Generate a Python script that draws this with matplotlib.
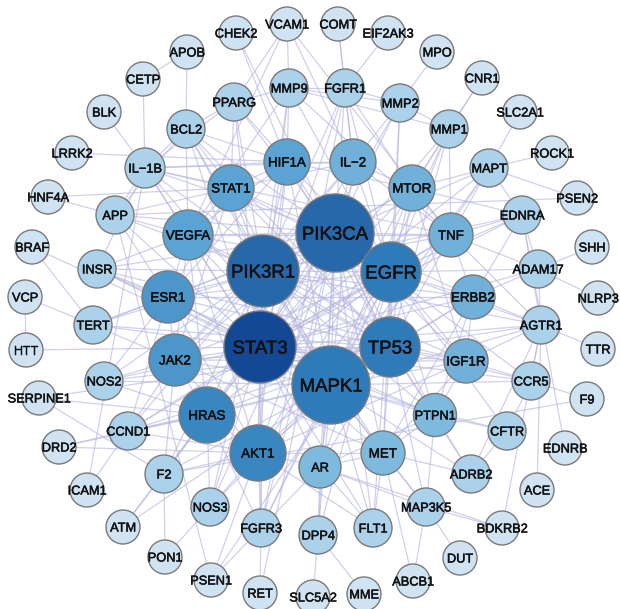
import matplotlib
matplotlib.use("Agg")
import matplotlib.pyplot as plt
import matplotlib.patheffects as pe
from matplotlib.patches import Circle
from matplotlib.collections import LineCollection
from matplotlib.colors import LinearSegmentedColormap, Normalize

# ---- network data -------------------------------------------------------
genes = [
    # hubs
    "STAT3", "PIK3CA", "PIK3R1", "EGFR", "TP53", "MAPK1",
    # inner ring
    "HIF1A", "IL−2", "STAT1", "MTOR", "VEGFA", "TNF", "ESR1", "ERBB2",
    "JAK2", "IGF1R", "HRAS", "PTPN1", "AKT1", "MET", "AR",
    # middle ring
    "PPARG", "MMP9", "FGFR1", "MMP2", "MMP1", "MAPT", "EDNRA", "ADAM17",
    "AGTR1", "CCR5", "CFTR", "ADRB2", "MAP3K5", "FLT1", "DPP4", "FGFR3",
    "NOS3", "F2", "CCND1", "NOS2", "TERT", "INSR", "APP", "IL−1B", "BCL2",
    # outer ring
    "CHEK2", "VCAM1", "COMT", "EIF2AK3", "MPO", "CNR1", "SLC2A1", "ROCK1",
    "PSEN2", "SHH", "NLRP3", "TTR", "F9", "EDNRB", "ACE", "BDKRB2", "DUT",
    "ABCB1", "MME", "SLC5A2", "RET", "PSEN1", "PON1", "ATM", "ICAM1",
    "DRD2", "SERPINE1", "HTT", "VCP", "BRAF", "HNF4A", "LRRK2", "BLK",
    "CETP", "APOB",
]

# node degree (drives the fill colour)
degree = [
    38, 33, 33, 29, 29, 29,
    19, 16, 19, 16, 19, 16, 22, 16,
    22, 16, 26, 14, 26, 14, 14,
    8, 8, 8, 8, 8, 8, 8, 8,
    8, 8, 8, 8, 8, 8, 8, 8,
    8, 8, 8, 8, 8, 8, 8, 8, 8,
    2, 2, 2, 2, 2, 2, 2, 2,
    2, 2, 2, 2, 2, 2, 2, 2, 2,
    2, 2, 2, 2, 2, 2, 2, 2,
    2, 2, 2, 2, 2, 2, 2, 2,
    2, 2,
]

# centrality score (drives the node size)
score = [
    80, 92, 80, 56, 56, 92,
    28, 28, 28, 28, 36, 24, 40, 24,
    40, 24, 48, 22, 48, 24, 20,
    12, 12, 12, 12, 12, 12, 12, 12,
    12, 12, 12, 12, 12, 12, 12, 12,
    12, 12, 12, 12, 12, 12, 12, 16, 12,
    4, 4, 4, 4, 4, 4, 4, 4,
    4, 4, 4, 4, 4, 4, 4, 4, 4,
    4, 4, 4, 4, 4, 4, 4, 4,
    4, 4, 4, 4, 4, 4, 4, 4,
    4, 4,
]

interactions = {
    "STAT3": "PIK3CA PIK3R1 EGFR TP53 MAPK1 JAK2 ESR1 HRAS AKT1 VEGFA STAT1 HIF1A IL−2 MTOR TNF ERBB2 "
             "IGF1R PTPN1 MET AR NOS2 TERT INSR APP CCND1 F2 IL−1B BCL2 PPARG MMP9 FGFR1 MMP2 MMP1 "
             "EDNRA AGTR1 CCR5 ADAM17 FLT1 FGFR3 NOS3 MAPT HTT",
    "PIK3CA": "PIK3R1 EGFR TP53 MAPK1 JAK2 ESR1 HRAS AKT1 VEGFA STAT1 HIF1A IL−2 MTOR TNF ERBB2 IGF1R "
              "PTPN1 MET AR INSR APP IL−1B BCL2 PPARG FGFR1 MMP2 MAPT CCR5 FGFR3 FLT1 DPP4 NOS3 TERT RET",
    "PIK3R1": "EGFR TP53 MAPK1 JAK2 ESR1 HRAS AKT1 VEGFA STAT1 HIF1A IL−2 MTOR TNF ERBB2 IGF1R PTPN1 "
              "MET INSR APP TERT NOS2 FGFR1 MMP9 PPARG BCL2 CCND1 F2 NOS3 FGFR3 AGTR1 EDNRA",
    "EGFR": "TP53 MAPK1 ESR1 HRAS AKT1 VEGFA STAT1 HIF1A IL−2 MTOR TNF ERBB2 IGF1R PTPN1 MET AR JAK2 "
            "MMP2 MMP1 FGFR1 MMP9 ADAM17 AGTR1 CCND1 EDNRA CFTR FLT1 FGFR3 DPP4",
    "TP53": "MAPK1 ESR1 HRAS AKT1 VEGFA STAT1 HIF1A MTOR TNF ERBB2 IGF1R PTPN1 MET AR JAK2 IL−1B BCL2 "
            "CCND1 TERT NOS2 MMP2 MMP1 CCR5 AGTR1 ADRB2 MAP3K5 ATM SERPINE1 CHEK2",
    "MAPK1": "ESR1 HRAS AKT1 VEGFA STAT1 HIF1A IL−2 MTOR TNF ERBB2 IGF1R PTPN1 MET AR JAK2 IL−1B F2 "
             "NOS3 FGFR3 DPP4 FLT1 MAP3K5 ADRB2 CFTR CCR5 AGTR1 MAPT MMP1 BRAF BCL2 INSR NOS2 CCND1",
    "HIF1A": "IL−2 STAT1 VEGFA MTOR AKT1 ESR1 LRRK2 PPARG MMP9 BCL2 IL−1B CHEK2",
    "IL−2": "STAT1 MTOR TNF JAK2 FGFR1 MMP2 IL−1B VCAM1 COMT",
    "STAT1": "VEGFA JAK2 ESR1 IL−1B BCL2 PPARG HNF4A APP",
    "MTOR": "TNF AKT1 IGF1R MAPT MMP1 CNR1 EDNRA FGFR1",
    "VEGFA": "ESR1 JAK2 HRAS AKT1 APP INSR IL−1B BCL2 TNF MMP9 VCAM1",
    "TNF": "ERBB2 ADAM17 EDNRA AGTR1 MAPT MMP1 IL−1B MMP9 VCAM1",
    "ESR1": "JAK2 AKT1 INSR TERT APP NOS2 CCND1 ERBB2",
    "ERBB2": "IGF1R ADAM17 AGTR1 EDNRA MET PTPN1",
    "JAK2": "HRAS AKT1 NOS2 TERT CCND1 F2 IGF1R MET",
    "IGF1R": "PTPN1 INSR AGTR1 CCR5 MET AKT1",
    "HRAS": "AKT1 F2 CCND1 NOS3 FGFR3 NOS2 SERPINE1 DRD2 ATM",
    "PTPN1": "MET CFTR ADRB2 MAP3K5 AR INSR",
    "AKT1": "AR MET F2 NOS3 FGFR3 CCND1 PSEN1 DRD2 FLT1",
    "MET": "AR MAP3K5 FLT1 ADRB2 ABCB1",
    "AR": "FLT1 DPP4 MAP3K5 FGFR3 BDKRB2",
    "IL−1B": "BLK CETP PPARG BCL2 APP INSR ICAM1",
    "BCL2": "APOB PPARG APP",
    "PPARG": "VCAM1 MMP9",
    "MMP9": "VCAM1 MMP2 MMP1 FGFR1",
    "FGFR1": "MMP2 COMT EIF2AK3 FGFR3",
    "MMP2": "MPO MMP1",
    "MMP1": "CNR1",
    "MAPT": "SLC2A1 ROCK1 PSEN2 EDNRA PSEN1",
    "EDNRA": "ADAM17 EDNRB AGTR1",
    "ADAM17": "SHH NLRP3 AGTR1",
    "AGTR1": "TTR ACE CCR5 BDKRB2 ADRB2",
    "CCR5": "F9 CFTR",
    "CFTR": "ADRB2",
    "MAP3K5": "DUT ABCB1 BDKRB2",
    "DPP4": "SLC5A2 MME",
    "FGFR3": "RET PSEN1",
    "NOS3": "PON1",
    "F2": "PON1 ATM SERPINE1 F9",
    "CCND1": "DRD2 ICAM1",
    "TERT": "VCP BRAF",
    "APP": "HNF4A PSEN1 PSEN2",
    "VCP": "HTT",
    "CETP": "APOB",
}

# ---- layout (concentric rings, canvas units) -----------------------------
layout = {
    "PIK3CA": (335, 233), "PIK3R1": (263, 271), "EGFR": (391, 272),
    "STAT3": (260, 347), "TP53": (390, 347), "MAPK1": (331, 385),
    "HIF1A": (287, 162), "IL−2": (353, 162), "STAT1": (231, 188),
    "MTOR": (412, 188), "VEGFA": (188, 235), "TNF": (451, 235),
    "ESR1": (168, 297), "ERBB2": (473, 297), "JAK2": (175, 360),
    "IGF1R": (466, 361), "HRAS": (207, 415), "PTPN1": (435, 415),
    "AKT1": (258, 453), "MET": (383, 453), "AR": (320, 467),
    "PPARG": (234, 102), "MMP9": (289, 88), "FGFR1": (345, 88),
    "MMP2": (400, 103), "MMP1": (449, 129), "MAPT": (489, 168),
    "EDNRA": (522, 215), "ADAM17": (538, 269), "AGTR1": (541, 325),
    "CCR5": (531, 381), "CFTR": (507, 431), "ADRB2": (471, 474),
    "MAP3K5": (426, 507), "FLT1": (373, 528), "DPP4": (318, 535),
    "FGFR3": (261, 528), "NOS3": (210, 507), "F2": (164, 474),
    "CCND1": (128, 431), "NOS2": (104, 381), "TERT": (93, 325),
    "INSR": (97, 269), "APP": (115, 215), "IL−1B": (145, 168),
    "BCL2": (186, 129),
    "CHEK2": (236, 33), "VCAM1": (287, 24), "COMT": (338, 24),
    "EIF2AK3": (388, 33), "MPO": (437, 52), "CNR1": (482, 78),
    "SLC2A1": (520, 112), "ROCK1": (552, 153), "PSEN2": (577, 198),
    "SHH": (592, 247), "NLRP3": (598, 298), "TTR": (598, 349),
    "F9": (587, 399), "EDNRB": (565, 448), "ACE": (537, 490),
    "BDKRB2": (502, 528), "DUT": (460, 558), "ABCB1": (413, 581),
    "MME": (364, 594), "SLC5A2": (313, 597), "RET": (260, 593),
    "PSEN1": (211, 580), "PON1": (165, 557), "ATM": (123, 527),
    "ICAM1": (87, 490), "DRD2": (59, 447), "SERPINE1": (39, 398),
    "HTT": (26, 350), "VCP": (25, 297), "BRAF": (32, 247),
    "HNF4A": (48, 197), "LRRK2": (72, 153), "BLK": (104, 112),
    "CETP": (143, 79), "APOB": (187, 52),
}

# ---- styling --------------------------------------------------------------
W, H = 620, 609
node_cmap = LinearSegmentedColormap.from_list(
    "ppi_blues",
    [(0.0, "#cfe3f3"), (0.167, "#aad1eb"), (0.333, "#7eb9de"),
     (0.472, "#5aa3d2"), (0.667, "#3a86c0"), (0.75, "#2f7bb9"),
     (0.861, "#2768ab"), (1.0, "#134894")])
norm = Normalize(vmin=min(degree), vmax=max(degree))

fig = plt.figure(figsize=(W / 100, H / 100), dpi=100)
ax = fig.add_axes([0, 0, 1, 1])
ax.set_xlim(0, W)
ax.set_ylim(H, 0)
ax.set_aspect("equal")
ax.axis("off")

# edges
segments = []
for src, targets in interactions.items():
    for dst in targets.split():
        segments.append([layout[src], layout[dst]])
ax.add_collection(LineCollection(segments, colors="#b4b4e0", linewidths=0.9,
                                 alpha=0.62, zorder=1))

# nodes and labels
label_fx = [pe.withStroke(linewidth=0.35, foreground="#111111")]
for name, deg, sc in zip(genes, degree, score):
    x, y = layout[name]
    radius = 16 + sc / 4
    ax.add_patch(Circle((x, y), radius, facecolor=node_cmap(norm(deg)),
                        edgecolor="#7a7a7a", linewidth=1.0, zorder=2))
    if sc >= 56:
        fs = 13.4
    elif sc >= 24:
        fs = 9.6
    else:
        fs = 9.2
    ax.text(x, y, name, ha="center", va="center_baseline", fontsize=fs,
            family=["Liberation Sans", "DejaVu Sans"], color="#111111",
            path_effects=label_fx, zorder=3)

fig.savefig("out.png", dpi=100)
